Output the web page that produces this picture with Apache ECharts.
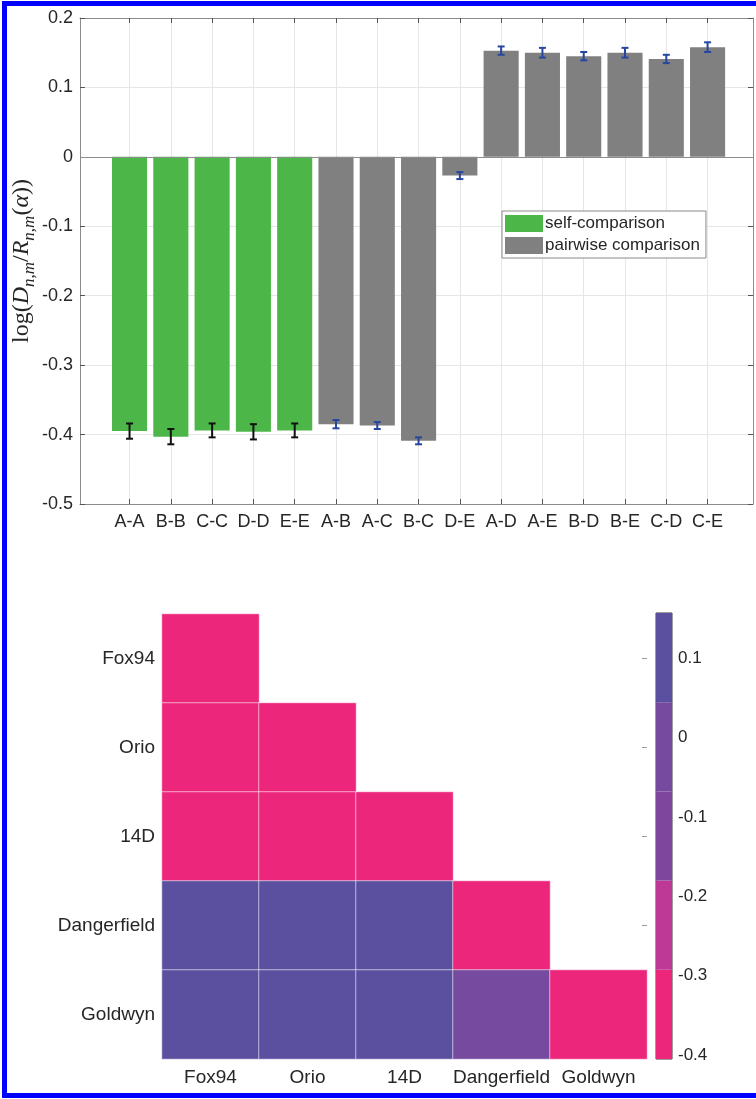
<!DOCTYPE html>
<html><head><meta charset="utf-8">
<script src="https://cdn.jsdelivr.net/npm/echarts@6/dist/echarts.min.js"></script>
<style>
html,body{margin:0;padding:0;background:#fff;}
#frame{position:absolute;left:2px;top:1px;width:800px;height:1087px;border:5px solid #0000ff;}
#chart{position:absolute;left:0;top:0;width:756px;height:1099px;}
</style></head><body>
<div id="frame"></div><div id="chart"></div>
<script>
// ---- data ----
const pairLabels = ['A-A','B-B','C-C','D-D','E-E','A-B','A-C','B-C','D-E','A-D','A-E','B-D','B-E','C-D','C-E'];
const pairIsSelf = [1,1,1,1,1,0,0,0,0,0,0,0,0,0,0];
const logRatio = [-0.395,-0.403,-0.394,-0.396,-0.394,-0.385,-0.387,-0.409,-0.027,0.153,0.150,0.145,0.150,0.141,0.158];
const errHalf = [0.011,0.011,0.010,0.011,0.010,0.006,0.005,0.005,0.005,0.006,0.007,0.006,0.007,0.006,0.007];
const yTicks = [-0.5,-0.4,-0.3,-0.2,-0.1,0,0.1,0.2];
const seriesNames = ['self-comparison','pairwise comparison'];
const heatNames = ['Fox94','Orio','14D','Dangerfield','Goldwyn'];
const heatKeys = ['A','B','C','D','E'];
const cbarMin = -0.405, cbarMax = 0.157;
const cbarColors = ['#EC267B','#BE3896','#7E479D','#764A9E','#5B50A0'];
const cbarTicks = [-0.4,-0.3,-0.2,-0.1,0,0.1];

// ---- derived ----
const catPos = pairLabels.map((_, i) => i + 1);
const selfData = [], pairData = [], errData = [];
logRatio.forEach((v, i) => {
  (pairIsSelf[i] ? selfData : pairData).push([catPos[i], v]);
  errData.push([catPos[i], v, errHalf[i], pairIsSelf[i]]);
});
const nPieces = cbarColors.length;
const bounds = [];
for (let k = 0; k <= nPieces; k++) bounds.push(cbarMin + (cbarMax - cbarMin) * k / nPieces);
const pieces = cbarColors.map((c, k) => {
  const p = { color: c };
  if (k > 0) p.gte = bounds[k];
  if (k < nPieces - 1) p.lt = bounds[k + 1];
  return p;
});
const cbarData = cbarColors.map((c, k) => [bounds[k], bounds[k + 1], k]);
const heatData = [];
for (let i = 0; i < heatKeys.length; i++) {
  for (let j = 0; j <= i; j++) {
    const idx = pairLabels.indexOf(heatKeys[j] + '-' + heatKeys[i]);
    heatData.push([j, i, logRatio[idx]]);
  }
}
const fmt1 = v => String(+(+v).toFixed(1));
const TXT = '#262626', AX = '#8c8c8c', GRID = '#e6e6e6';
const FONT = '"Liberation Sans", Arial, Helvetica, sans-serif';
const SERIF = '"Liberation Serif", "Times New Roman", serif';
const axLine = { show: true, onZero: false, lineStyle: { color: AX } };

const chart = echarts.init(document.getElementById('chart'));
chart.setOption({
  animation: false,
  textStyle: { fontFamily: FONT },
  grid: [
    { left: 80, top: 18, width: 673, height: 486, outerBoundsMode: 'none', containLabel: false },
    { left: 162, top: 614, width: 485, height: 445, outerBoundsMode: 'none', containLabel: false },
    { left: 656, top: 613, width: 16, height: 446, outerBoundsMode: 'none', containLabel: false,
      show: true, borderColor: '#3a3a3a', borderWidth: 1, backgroundColor: 'transparent' }
  ],
  legend: {
    data: seriesNames,
    left: 502, top: 211, orient: 'vertical',
    icon: 'rect', itemWidth: 38, itemHeight: 17, itemGap: 5,
    padding: [4, 6, 4, 3],
    borderColor: '#8a8a8a', borderWidth: 1, backgroundColor: '#fff',
    textStyle: { fontSize: 17, color: TXT, fontFamily: FONT, padding: [0, 0, 0, -3] }
  },
  xAxis: [
    { type: 'value', gridIndex: 0, min: -0.2, max: 16.1,
      axisLine: axLine,
      axisTick: { show: true, inside: true, length: 5, customValues: catPos, lineStyle: { color: '#555' } },
      axisLabel: { customValues: catPos, formatter: v => pairLabels[Math.round(v) - 1] || '', fontSize: 18, color: TXT, margin: 9 },
      splitLine: { show: true, lineStyle: { color: GRID } } },
    { type: 'value', gridIndex: 0, position: 'top', min: -0.2, max: 16.1,
      axisLine: axLine,
      axisTick: { show: true, inside: true, length: 5, customValues: catPos, lineStyle: { color: '#555' } },
      axisLabel: { show: false }, splitLine: { show: false } },
    { type: 'category', gridIndex: 1, data: heatNames,
      axisLine: { show: false }, axisTick: { show: false },
      axisLabel: { fontSize: 19, color: TXT, margin: 9, interval: 0 } },
    { type: 'value', gridIndex: 2, min: 0, max: 1, show: false }
  ],
  yAxis: [
    { type: 'value', gridIndex: 0, min: -0.5, max: 0.2, interval: 0.1,
      axisLine: axLine,
      axisTick: { show: true, inside: true, length: 5, lineStyle: { color: '#555' } },
      axisLabel: { formatter: fmt1, fontSize: 18, color: TXT, margin: 7 },
      splitLine: { show: true, lineStyle: { color: GRID } },
      name: '{n|log(}{i|D}{s|n,m}{n|/}{i|R}{s|n,m}{n|(}{i|α}{n|))}',
      nameLocation: 'middle', nameRotate: 90, nameGap: 42, nameMoveOverlap: false,
      nameTextStyle: {
        rich: {
          n: { fontFamily: SERIF, fontSize: 24, color: TXT, lineHeight: 32 },
          i: { fontFamily: SERIF, fontSize: 24, fontStyle: 'italic', color: TXT, lineHeight: 32 },
          s: { fontFamily: SERIF, fontSize: 17, fontStyle: 'italic', color: TXT, verticalAlign: 'bottom' }
        }
      } },
    { type: 'value', gridIndex: 0, position: 'right', min: -0.5, max: 0.2, interval: 0.1,
      axisLine: axLine,
      axisTick: { show: true, inside: true, length: 5, lineStyle: { color: '#555' } },
      axisLabel: { show: false }, splitLine: { show: false } },
    { type: 'category', gridIndex: 1, data: heatNames, inverse: true,
      axisLine: { show: false }, axisTick: { show: false },
      axisLabel: { fontSize: 19, color: TXT, margin: 7, interval: 0 } },
    { type: 'category', gridIndex: 1, data: heatNames, inverse: true, position: 'right',
      axisLine: { show: false },
      axisTick: { show: true, inside: true, length: 5, alignWithLabel: true, lineStyle: { color: '#999' } },
      axisLabel: { show: false } },
    { type: 'value', gridIndex: 2, position: 'right', min: cbarMin, max: cbarMax,
      axisLine: { show: false, onZero: false },
      axisTick: { show: true, inside: true, length: 3, customValues: cbarTicks, lineStyle: { color: '#333' } },
      axisLabel: { customValues: cbarTicks, formatter: fmt1, fontSize: 17, color: TXT, margin: 6 },
      splitLine: { show: false } }
  ],
  visualMap: {
    type: 'piecewise', show: false, seriesIndex: 3, dimension: 2, pieces: pieces
  },
  series: [
    { name: seriesNames[0], type: 'bar', xAxisIndex: 0, yAxisIndex: 0, data: selfData,
      barWidth: '85%', barGap: '-100%', itemStyle: { color: '#4CB748' } },
    { name: seriesNames[1], type: 'bar', xAxisIndex: 0, yAxisIndex: 0, data: pairData,
      barWidth: '85%', barGap: '-100%', itemStyle: { color: '#808080' },
      markLine: { silent: true, symbol: 'none', label: { show: false },
        lineStyle: { color: AX, width: 1, type: 'solid' }, data: [{ yAxis: 0 }] } },
    { type: 'custom', xAxisIndex: 0, yAxisIndex: 0, data: errData, z: 5,
      renderItem: function (params, api) {
        const x = api.value(0), y = api.value(1), e = api.value(2), s = api.value(3);
        const t = api.coord([x, y + e]), b = api.coord([x, y - e]);
        const col = s ? '#111111' : '#2646A0';
        const cw = 3.5;
        const st = { stroke: col, lineWidth: 2 };
        return { type: 'group', children: [
          { type: 'line', shape: { x1: t[0], y1: t[1], x2: b[0], y2: b[1] }, style: st },
          { type: 'line', shape: { x1: t[0] - cw, y1: t[1], x2: t[0] + cw, y2: t[1] }, style: st },
          { type: 'line', shape: { x1: b[0] - cw, y1: b[1], x2: b[0] + cw, y2: b[1] }, style: st }
        ] };
      } },
    { type: 'heatmap', xAxisIndex: 2, yAxisIndex: 2, data: heatData,
      itemStyle: { borderColor: 'rgba(255,255,255,0.55)', borderWidth: 1 } },
    { type: 'custom', xAxisIndex: 3, yAxisIndex: 4, data: cbarData,
      renderItem: function (params, api) {
        const lo = api.value(0), hi = api.value(1), k = api.value(2);
        const p0 = api.coord([0, hi]), p1 = api.coord([1, lo]);
        return { type: 'rect', shape: { x: p0[0], y: p0[1], width: p1[0] - p0[0], height: p1[1] - p0[1] },
          style: { fill: cbarColors[k] } };
      } }
  ]
});
</script></body></html>
